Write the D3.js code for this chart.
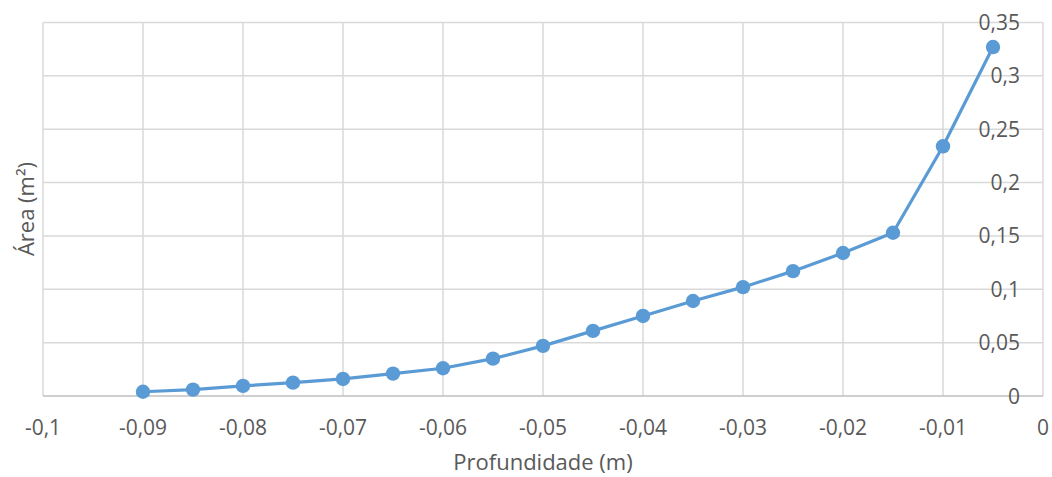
<!DOCTYPE html>
<html><head><meta charset="utf-8">
<script src="https://cdn.jsdelivr.net/npm/d3@7"></script>
<style>body{margin:0;background:#fff;} text{font-family:"Open Sans",sans-serif;fill:#595959;}</style>
</head><body>
<svg id="c" width="1052" height="477"></svg>
<script>
const depth = [-0.09,-0.085,-0.08,-0.075,-0.07,-0.065,-0.06,-0.055,-0.05,-0.045,-0.04,-0.035,-0.03,-0.025,-0.02,-0.015,-0.01,-0.005];
const area = [0.004,0.006,0.0095,0.0125,0.016,0.021,0.026,0.035,0.047,0.061,0.075,0.089,0.102,0.117,0.134,0.153,0.234,0.327];
const xTicks = [-0.1,-0.09,-0.08,-0.07,-0.06,-0.05,-0.04,-0.03,-0.02,-0.01,0];
const yTicks = [0,0.05,0.1,0.15,0.2,0.25,0.3,0.35];
const xTitle = "Profundidade (m)";
const yTitle = "Área (m²)";

const svg = d3.select("#c");
const x = d3.scaleLinear().domain([-0.1,0]).range([43,1043]);
const y = d3.scaleLinear().domain([0,0.35]).range([396,22.5]);
const fmt = v => (Math.round(v*1000)/1000).toString().replace(".",",");

// gridlines
svg.append("g").selectAll("line").data(yTicks.filter(d=>d>0)).join("line")
  .attr("x1",x(-0.1)).attr("x2",x(0)).attr("y1",d=>y(d)).attr("y2",d=>y(d))
  .attr("stroke","#d9d9d9").attr("stroke-width",1.5);
svg.append("g").selectAll("line").data(xTicks).join("line")
  .attr("x1",d=>x(d)).attr("x2",d=>x(d)).attr("y1",y(0)).attr("y2",y(0.35))
  .attr("stroke","#d9d9d9").attr("stroke-width",1.5);

// x axis line
svg.append("line").attr("x1",x(-0.1)).attr("x2",x(0)).attr("y1",y(0)).attr("y2",y(0))
  .attr("stroke","#bfbfbf").attr("stroke-width",1.5);

// x tick labels
svg.append("g").selectAll("text").data(xTicks).join("text")
  .attr("x",d=>x(d)).attr("y",435).attr("text-anchor","middle")
  .attr("font-size","21px").text(d=>fmt(d));

// y tick labels
svg.append("g").selectAll("text").data(yTicks).join("text")
  .attr("x",1020).attr("y",d=>y(d)).attr("dy","0.36em").attr("text-anchor","end")
  .attr("font-size","21px").text(d=>fmt(d));

// line
const pts = depth.map((d,i)=>[d,area[i]]);
svg.append("path").datum(pts)
  .attr("d",d3.line().x(d=>x(d[0])).y(d=>y(d[1])))
  .attr("fill","none").attr("stroke","#5b9bd5").attr("stroke-width",3.2).attr("stroke-linejoin","round");
svg.append("g").selectAll("circle").data(pts).join("circle")
  .attr("cx",d=>x(d[0])).attr("cy",d=>y(d[1])).attr("r",7.2).attr("fill","#5b9bd5");

// titles
svg.append("text").attr("x",543).attr("y",470).attr("text-anchor","middle")
  .attr("font-size","22px").text(xTitle);
svg.append("text").attr("transform","translate(34,209) rotate(-90)").attr("text-anchor","middle")
  .attr("font-size","22px").text(yTitle);
</script>
</body></html>
